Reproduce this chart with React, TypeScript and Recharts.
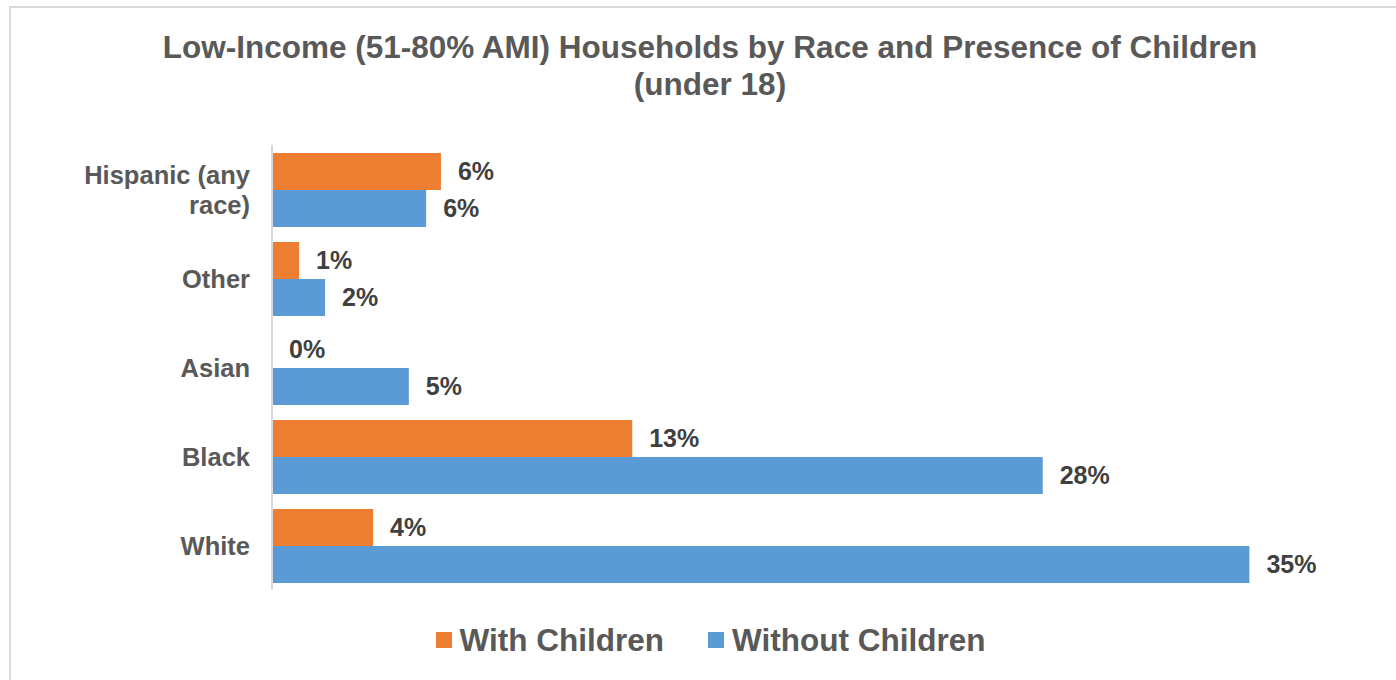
import { BarChart, Bar, XAxis, YAxis, Legend, LabelList } from 'recharts';

const FONT = '"Liberation Sans", Arial, sans-serif';
const ORANGE = '#ED7D31';
const BLUE = '#5B9BD5';

// category labels, one entry per drawn line
const categoryLines = [['Hispanic (any', 'race)'], ['Other'], ['Asian'], ['Black'], ['White']];
const categories = categoryLines.map((l) => l.join(' '));

// share of low-income households, in percent
const withChildren = [6.05, 0.97, 0, 12.9, 3.62];
const withoutChildren = [5.52, 1.9, 4.9, 27.6, 35.0];

const seriesNames = ['With Children', 'Without Children'];

const data = categories.map((name, i) => ({
  name,
  withChildren: withChildren[i],
  withoutChildren: withoutChildren[i],
}));

const pct = (v: number) => `${Math.round(v)}%`;

// zero-valued bars still need a rect so their label gets drawn
const keepZero = (v: any) => (Number(v) === 0 ? 0.01 : 0);

const CategoryTick = ({ x, y, index }: any) => {
  const lines = categoryLines[index] ?? [];
  const start = -((lines.length - 1) * 30) / 2;
  return (
    <text x={x} y={y} textAnchor="end" fill="#595959" fontSize={25.5} fontWeight="bold" fontFamily={FONT}>
      {lines.map((t, i) => (
        <tspan key={i} x={x} y={y + start + i * 30 + 9}>
          {t}
        </tspan>
      ))}
    </text>
  );
};

const LegendContent = () => (
  <div
    style={{
      display: 'flex',
      justifyContent: 'center',
      alignItems: 'center',
      height: 90,
      paddingTop: 10,
      paddingLeft: 32,
      boxSizing: 'border-box',
      gap: 44,
      fontFamily: FONT,
      fontSize: 31.5,
      fontWeight: 'bold',
      color: '#595959',
    }}
  >
    {seriesNames.map((n, i) => (
      <span key={n} style={{ display: 'flex', alignItems: 'center' }}>
        <span style={{ width: 16, height: 16, background: i === 0 ? ORANGE : BLUE, marginRight: 8 }} />
        {n}
      </span>
    ))}
  </div>
);

const valueLabel = (key: string) => (
  <LabelList
    dataKey={key}
    position="right"
    offset={17}
    formatter={(v: any) => pct(Number(v))}
    fill="#404040"
    fontSize={25}
    fontWeight="bold"
  />
);

export default function App() {
  return (
    <div style={{ position: 'fixed', left: 0, top: 0, width: 1396, height: 680, background: '#fff', overflow: 'hidden' }}>
      <div
        style={{
          position: 'absolute',
          left: 9,
          top: 6,
          width: 1420,
          height: 720,
          border: '2px solid #d9d9d9',
        }}
      />
      <div
        style={{
          position: 'absolute',
          left: 10,
          top: 29,
          width: 1400,
          textAlign: 'center',
          fontFamily: FONT,
          fontSize: 31.5,
          lineHeight: '37px',
          fontWeight: 'bold',
          color: '#595959',
        }}
      >
        Low-Income (51-80% AMI) Households by Race and Presence of Children
        <br />
        (under 18)
      </div>
      <BarChart
        width={1396}
        height={680}
        data={data}
        layout="vertical"
        margin={{ top: 145, right: 7, bottom: 0, left: 0 }}
        barCategoryGap={8}
        barGap={0}
        style={{ position: 'absolute', left: 0, top: 0, fontFamily: FONT }}
      >
        <XAxis type="number" domain={[0, 40]} hide />
        <YAxis
          type="category"
          dataKey="name"
          width={272}
          axisLine={{ stroke: '#d9d9d9', strokeWidth: 2 }}
          tickLine={false}
          tickSize={0}
          tickMargin={22}
          tick={<CategoryTick />}
          interval={0}
        />
        <Legend verticalAlign="bottom" height={90} content={<LegendContent />} />
        <Bar dataKey="withChildren" name={seriesNames[0]} fill={ORANGE} minPointSize={keepZero} isAnimationActive={false}>
          {valueLabel('withChildren')}
        </Bar>
        <Bar dataKey="withoutChildren" name={seriesNames[1]} fill={BLUE} isAnimationActive={false}>
          {valueLabel('withoutChildren')}
        </Bar>
      </BarChart>
    </div>
  );
}
